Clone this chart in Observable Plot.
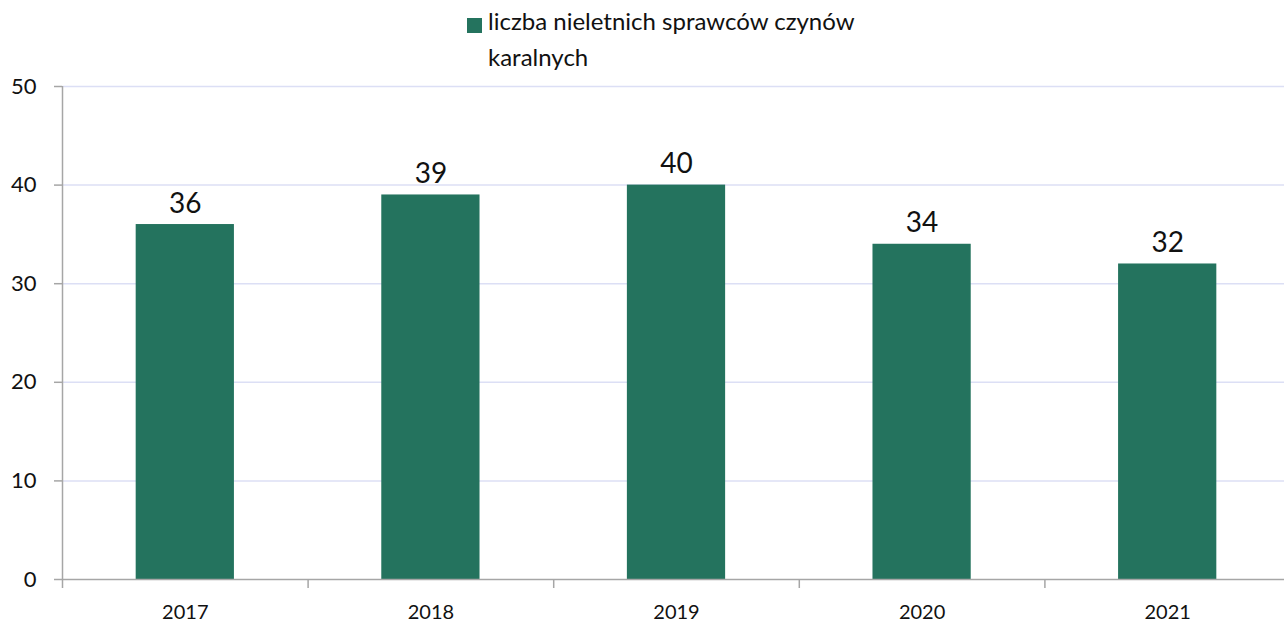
<!DOCTYPE html>
<html>
<head>
<meta charset="utf-8">
<script src="https://cdn.jsdelivr.net/npm/d3@7"></script>
<script src="https://cdn.jsdelivr.net/npm/@observablehq/plot@0.6"></script>
<style>
  body { margin: 0; background: #fff; font-family: Lato, "Open Sans", sans-serif; }
  #wrap { position: relative; width: 1284px; height: 625px; }
  #legend { position: absolute; left: 467px; top: 3px; font-size: 24px; line-height: 36px; color: #111; width: 450px; }
  #legend .sw { position: absolute; left: 0; top: 15px; width: 15px; height: 15px; background: #24735e; }
  #legend .tx { margin-left: 21px; }
</style>
</head>
<body>
<div id="wrap">
  <div id="legend"><span class="sw"></span><div class="tx"></div></div>
</div>
<script>
const years = ["2017", "2018", "2019", "2020", "2021"];
const values = [36, 39, 40, 34, 32];
const legendLines = ["liczba nieletnich sprawców czynów", "karalnych"];
const yTicks = [0, 10, 20, 30, 40, 50];

document.querySelector("#legend .tx").innerHTML = legendLines.join("<br>");

const data = years.map((y, i) => ({year: y, i, value: values[i]}));
const color = "#24735e";
const axisGray = "#a6a6a6";
const gridColor = "#dcdff5";

const chart = Plot.plot({
  width: 1284,
  height: 625,
  marginTop: 86,
  marginBottom: 46,
  marginLeft: 62,
  marginRight: 0,
  style: {fontFamily: "Lato, 'Open Sans', sans-serif", background: "transparent", overflow: "visible"},
  x: {domain: [0, years.length], range: [62, 1290], axis: null},
  y: {domain: [0, 50], axis: null},
  marks: [
    Plot.ruleY(yTicks.filter(d => d > 0), {x1: 0, x2: years.length, stroke: gridColor, strokeWidth: 1.5, clip: false}),
    Plot.rectY(data, {x1: d => d.i + 0.3, x2: d => d.i + 0.7, y1: 0, y2: "value", fill: color}),
    Plot.axisY({ticks: yTicks, tickSize: 8, tickPadding: 18, stroke: axisGray, strokeWidth: 1.5, fontSize: 22, fill: "#111", tickFormat: d => String(d), label: null}),
    Plot.ruleX([0], {y1: 0, y2: 50, stroke: axisGray, strokeWidth: 1.5}),
    Plot.ruleY([0], {x1: 0, x2: years.length, stroke: axisGray, strokeWidth: 1.5}),
    Plot.axisX({ticks: d3.range(0, years.length + 1), tickSize: 9, tickFormat: () => "", stroke: axisGray, strokeWidth: 1.5, label: null}),
    Plot.axisX({ticks: years.map((y, i) => i + 0.5), tickSize: 0, tickPadding: 25, tickFormat: d => years[Math.floor(d)], fontSize: 20, fill: "#111", label: null}),
    Plot.text(data, {x: d => d.i + 0.5, y: "value", text: d => String(d.value), dy: -21, fontSize: 28, fill: "#111"})
  ]
});
document.getElementById("wrap").appendChild(chart);
</script>
</body>
</html>
